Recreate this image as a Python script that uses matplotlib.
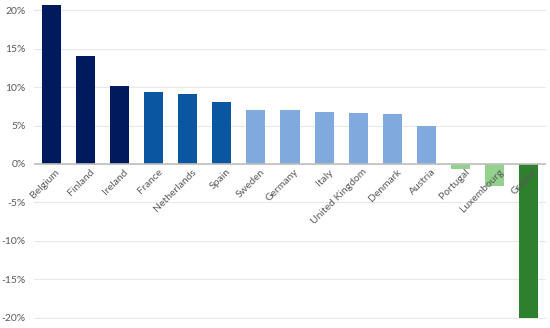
import matplotlib.pyplot as plt
from matplotlib.ticker import FuncFormatter

# values (% change)
countries = ["Belgium", "Finland", "Ireland", "France", "Netherlands", "Spain",
             "Sweden", "Germany", "Italy", "United Kingdom", "Denmark", "Austria",
             "Portugal", "Luxembourg", "Greece"]
values = [20.7, 14.1, 10.2, 9.4, 9.1, 8.1, 7.0, 7.0, 6.8, 6.6, 6.5, 5.0, -0.7, -2.9, -20.1]
groups = ["navy"] * 3 + ["blue"] * 3 + ["light"] * 6 + ["lgreen"] * 2 + ["dgreen"]

palette = {
    "navy": "#001a5e",
    "blue": "#0a56a0",
    "light": "#80a9dd",
    "lgreen": "#93d18d",
    "dgreen": "#2e7f2e",
}
text_col = "#595959"

plt.rcParams['font.family'] = ['Lato', 'DejaVu Sans']

fig = plt.figure(figsize=(5.5, 3.28), dpi=100)
ax = fig.add_axes([34 / 550, 0.02, 512 / 550, 0.98])

x = range(len(countries))
ax.bar(x, values, width=0.56, color=[palette[g] for g in groups], zorder=3)

ax.set_xlim(-0.5, len(countries) - 0.5)
ax.set_ylim(-20.5, 21.35)
ax.set_yticks([-20, -15, -10, -5, 0, 5, 10, 15, 20])
ax.yaxis.set_major_formatter(FuncFormatter(lambda v, p: f"{v:.0f}%"))
ax.tick_params(axis='y', length=0, labelsize=7.5, labelcolor=text_col, pad=6)
ax.set_xticks([])

ax.grid(axis='y', color="#e8e8e8", linewidth=0.8, zorder=0)
ax.axhline(0, color="#bfbfbf", linewidth=1.2, zorder=4)
for s in ax.spines.values():
    s.set_visible(False)

# category labels hang under the zero line, rotated
for i, name in enumerate(countries):
    ax.text(i + 0.12, -0.45, name, rotation=45, rotation_mode='anchor',
            ha='right', va='top', fontsize=7.5, color=text_col, zorder=5)

fig.savefig("out.png", dpi=100)
